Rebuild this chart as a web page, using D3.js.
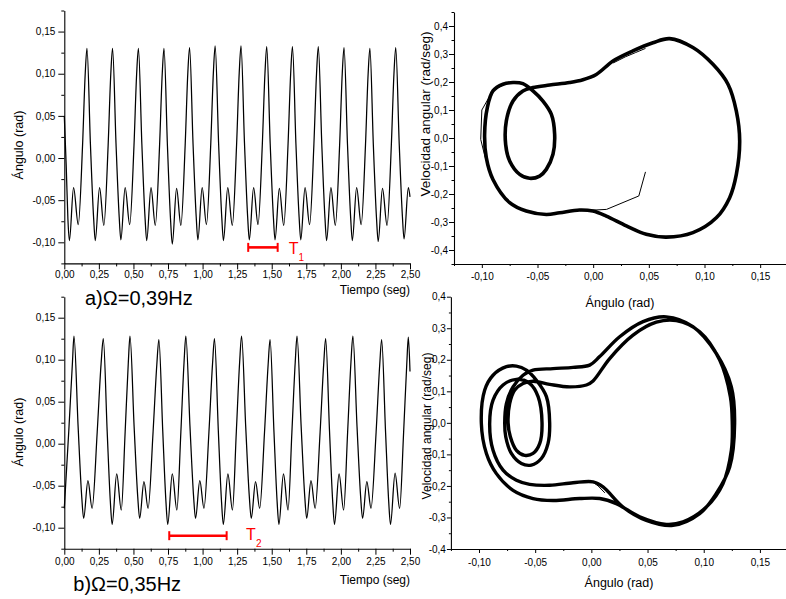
<!DOCTYPE html>
<html><head><meta charset="utf-8">
<script src="https://cdn.jsdelivr.net/npm/d3@7"></script>
<style>body{margin:0;background:#fff}text{font-family:"Liberation Sans",Arial,sans-serif}</style>
</head><body>
<script>
// ---------- DATA ----------
const timeTicks=[0,0.25,0.5,0.75,1,1.25,1.5,1.75,2,2.25,2.5];
const timeMinor=[0.125,0.375,0.625,0.875,1.125,1.375,1.625,1.875,2.125,2.375];
const angleTicks=[-0.10,-0.05,0,0.05,0.10,0.15];
const angleMinor=[-0.125,-0.075,-0.025,0.025,0.075,0.125,0.175];
const velTicksA=[-0.4,-0.3,-0.2,-0.1,0,0.1,0.2,0.3,0.4];
const velMinorA=[-0.45,-0.35,-0.25,-0.15,-0.05,0.05,0.15,0.25,0.35,0.45];
const velMinorB=[-0.35,-0.25,-0.15,-0.05,0.05,0.15,0.25,0.35];

// a) time series (s, rad)
const topT=[0.000,0.014,0.026,0.037,0.067,0.101,
0.132,0.151,0.164,0.189,0.212,0.224,0.255,0.286,
0.317,0.336,0.349,0.374,0.397,0.409,0.440,0.473,
0.504,0.523,0.536,0.561,0.584,0.596,0.627,0.658,
0.689,0.708,0.721,0.746,0.769,0.781,0.812,0.843,
0.874,0.893,0.906,0.931,0.954,0.966,0.997,1.028,
1.059,1.078,1.091,1.116,1.139,1.151,1.182,1.215,
1.246,1.265,1.278,1.303,1.326,1.338,1.369,1.401,
1.432,1.451,1.464,1.489,1.512,1.524,1.555,1.587,
1.618,1.637,1.650,1.675,1.698,1.710,1.741,1.774,
1.805,1.824,1.837,1.862,1.885,1.897,1.928,1.960,
1.991,2.010,2.023,2.048,2.071,2.083,2.114,2.147,
2.178,2.197,2.210,2.235,2.258,2.270,2.301,2.334,
2.365,2.384,2.397,2.422,2.445,2.457,2.488,2.500];
const topA=[0.050,-0.010,-0.072,-0.098,-0.035,-0.079,
0.015,0.099,0.130,0.016,-0.071,-0.098,-0.035,-0.080,
0.015,0.099,0.130,0.017,-0.070,-0.097,-0.035,-0.079,
0.015,0.099,0.130,0.016,-0.071,-0.098,-0.035,-0.080,
0.015,0.099,0.130,0.014,-0.075,-0.102,-0.036,-0.080,
0.015,0.100,0.131,0.017,-0.070,-0.097,-0.035,-0.079,
0.016,0.101,0.133,0.017,-0.071,-0.098,-0.035,-0.080,
0.016,0.101,0.133,0.018,-0.070,-0.097,-0.035,-0.079,
0.016,0.100,0.132,0.017,-0.070,-0.097,-0.036,-0.080,
0.016,0.100,0.132,0.017,-0.070,-0.097,-0.035,-0.079,
0.016,0.100,0.132,0.017,-0.071,-0.098,-0.035,-0.080,
0.015,0.100,0.131,0.016,-0.071,-0.098,-0.035,-0.079,
0.015,0.099,0.130,0.015,-0.072,-0.099,-0.036,-0.080,
0.015,0.100,0.131,0.017,-0.069,-0.096,-0.035,-0.046];

// b) time series (s, rad)
const botT=[0.000,0.032,0.059,0.070,
0.100,0.126,0.140,0.171,0.201,0.238,0.266,0.282,
0.310,0.333,0.346,0.379,0.412,0.440,0.463,0.475,
0.505,0.531,0.545,0.576,0.606,0.642,0.669,0.684,
0.712,0.735,0.748,0.781,0.814,0.843,0.866,0.879,
0.909,0.935,0.949,0.980,1.010,1.046,1.072,1.086,
1.114,1.137,1.150,1.183,1.216,1.244,1.268,1.282,
1.312,1.338,1.352,1.383,1.413,1.448,1.474,1.488,
1.516,1.539,1.552,1.585,1.618,1.646,1.670,1.683,
1.713,1.739,1.753,1.784,1.814,1.850,1.876,1.890,
1.918,1.941,1.954,1.987,2.020,2.049,2.073,2.087,
2.117,2.143,2.157,2.188,2.218,2.255,2.281,2.295,
2.323,2.346,2.359,2.392,2.425,2.454,2.477,2.488,
2.500];
const botA=[-0.077,0.014,0.097,0.128,
0.020,-0.063,-0.089,-0.044,-0.077,0.014,0.095,0.125,
0.015,-0.069,-0.096,-0.036,-0.079,0.014,0.097,0.128,
0.020,-0.063,-0.089,-0.045,-0.077,0.014,0.094,0.124,
0.015,-0.069,-0.096,-0.036,-0.079,0.014,0.097,0.128,
0.020,-0.063,-0.089,-0.044,-0.077,0.014,0.095,0.125,
0.015,-0.069,-0.096,-0.036,-0.079,0.014,0.097,0.128,
0.020,-0.063,-0.089,-0.045,-0.077,0.014,0.094,0.124,
0.015,-0.069,-0.096,-0.036,-0.079,0.014,0.097,0.128,
0.020,-0.063,-0.089,-0.044,-0.077,0.014,0.095,0.125,
0.015,-0.069,-0.096,-0.036,-0.079,0.014,0.097,0.128,
0.020,-0.063,-0.089,-0.045,-0.077,0.014,0.094,0.124,
0.015,-0.069,-0.096,-0.035,-0.077,0.014,0.096,0.127,
0.086];

// period markers (s) and their level (rad)
const T1=[1.330,1.543], T1level=-0.106;
const T2=[0.759,1.174], T2level=-0.1095;

// a) phase portrait (rad, rad/s)
const trAng=[0.0687,0.0896,0.1076,0.1211,0.1286,0.1316,0.1286,0.1226,0.1106,0.0896,0.0657,0.0477,0.0298,0.0118,-0.0002,-0.0122,-0.0301,-0.0421,-0.0601,-0.0750,-0.0900,-0.0960,-0.0975,-0.0951,-0.0900,-0.0810,-0.0720,-0.0631,-0.0541,-0.0451,-0.0376,-0.0346,-0.0361,-0.0421,-0.0481,-0.0571,-0.0660,-0.0750,-0.0786,-0.0780,-0.0720,-0.0631,-0.0541,-0.0391,-0.0211,-0.0092,0.0028,0.0178,0.0357,0.0537];
const trVel=[0.355,0.323,0.263,0.192,0.096,-0.011,-0.130,-0.213,-0.285,-0.338,-0.354,-0.344,-0.314,-0.279,-0.261,-0.257,-0.267,-0.273,-0.261,-0.231,-0.148,-0.070,0.013,0.108,0.168,0.192,0.198,0.194,0.168,0.132,0.085,0.013,-0.058,-0.112,-0.136,-0.144,-0.130,-0.082,-0.023,0.061,0.132,0.168,0.180,0.189,0.198,0.208,0.227,0.275,0.311,0.340];
const trTrans1Ang=[0.047,0.038,0.029,0.018], trTrans1Vel=[0.320,0.305,0.290,0.268];
const trTrans2Ang=[0.047,0.041,0.012,-0.012], trTrans2Vel=[-0.121,-0.207,-0.255,-0.260];
const trTrans3Ang=[-0.076,-0.090,-0.100,-0.101,-0.097], trTrans3Vel=[0.200,0.170,0.100,-0.005,-0.070];

// b) phase portrait (rad, rad/s)
const brAng=[0.1275,0.1231,0.1112,0.0964,0.0727,0.0489,0.0282,0.0104,0.0015,-0.0163,-0.0371,-0.0549,-0.0667,-0.0786,-0.0875,-0.0905,-0.0875,-0.0786,-0.0667,-0.0549,-0.0474,-0.0439,-0.0460,-0.0519,-0.0593,-0.0667,-0.0721,-0.0741,-0.0727,-0.0682,-0.0608,-0.0519,-0.0371,-0.0193,-0.0044,0.0015,0.0163,0.0371,0.0578,0.0756,0.0964,0.1142,0.1237,0.1254,
0.1246,0.1171,0.1023,0.0816,0.0667,0.0430,0.0222,0.0074,-0.0104,-0.0341,-0.0519,-0.0697,-0.0845,-0.0934,-0.0979,-0.0949,-0.0875,-0.0756,-0.0667,-0.0578,-0.0489,-0.0400,-0.0371,-0.0386,-0.0445,-0.0534,-0.0623,-0.0712,-0.0762,-0.0771,-0.0756,-0.0697,-0.0608,-0.0519,-0.0341,-0.0163,-0.0015,0.0074,0.0252,0.0460,0.0667,0.0904,0.1112,0.1246];
const brVel=[-0.002,-0.140,-0.224,-0.288,-0.325,-0.309,-0.267,-0.203,-0.187,-0.190,-0.198,-0.195,-0.182,-0.150,-0.087,-0.002,0.072,0.120,0.138,0.125,0.083,0.000,-0.066,-0.097,-0.103,-0.087,-0.044,0.000,0.061,0.104,0.125,0.132,0.122,0.114,0.120,0.133,0.204,0.278,0.319,0.324,0.289,0.199,0.083,-0.002,
-0.087,-0.193,-0.267,-0.314,-0.322,-0.298,-0.256,-0.240,-0.240,-0.246,-0.240,-0.214,-0.161,-0.097,-0.002,0.104,0.151,0.178,0.180,0.167,0.135,0.083,0.000,-0.066,-0.113,-0.134,-0.129,-0.097,-0.044,0.000,0.061,0.114,0.151,0.167,0.172,0.176,0.183,0.210,0.273,0.321,0.336,0.305,0.220,0.114];
const brTransAng=[-0.001,0.006,0.012], brTransVel=[-0.182,-0.200,-0.222];

// ---------- DRAW ----------
const W=786,H=599;
const svg=d3.select("body").append("svg").attr("width",W).attr("height",H);
svg.append("rect").attr("width",W).attr("height",H).attr("fill","#fff");
const loc=d3.formatLocale({decimal:",",thousands:".",grouping:[3],currency:["",""],minus:"-"});
const f2=loc.format(".2f"), f1=loc.format(".1f");
const FONT='"Liberation Sans",Arial,sans-serif';

function styleAxis(g){
  g.selectAll("path.domain").attr("stroke","#000").attr("stroke-width",1.1);
  g.selectAll(".tick line").attr("stroke","#000").attr("stroke-width",1);
  g.selectAll(".tick text").attr("fill","#000").style("font-family",FONT).style("font-size","10px");
}
function axes(x,y,o){
  const gx=svg.append("g").attr("transform",`translate(0,${y.range()[0]})`)
    .call(d3.axisBottom(x).tickValues(o.xT).tickFormat(o.xF).tickSize(o.xS).tickSizeOuter(0).tickPadding(o.xP));
  styleAxis(gx);
  const gxm=svg.append("g").attr("transform",`translate(0,${y.range()[0]})`)
    .call(d3.axisBottom(x).tickValues(o.xM).tickFormat("").tickSize(o.xS/2).tickSizeOuter(0));
  gxm.select("path.domain").remove(); styleAxis(gxm);
  const gy=svg.append("g").attr("transform",`translate(${x.range()[0]},0)`)
    .call(d3.axisLeft(y).tickValues(o.yT).tickFormat(o.yF).tickSize(o.yS).tickSizeOuter(0).tickPadding(o.yP));
  styleAxis(gy);
  const gym=svg.append("g").attr("transform",`translate(${x.range()[0]},0)`)
    .call(d3.axisLeft(y).tickValues(o.yM).tickFormat("").tickSize(o.yS/2).tickSizeOuter(0));
  gym.select("path.domain").remove(); styleAxis(gym);
}
function txt(x,y,s,size,anchor,rot,fill){
  const t=svg.append("text").attr("font-size",size).attr("fill",fill||"#000")
    .attr("text-anchor",anchor||"start").style("font-family",FONT).text(s);
  if(rot){t.attr("transform",`translate(${x},${y}) rotate(-90)`).attr("dy","0.35em");}
  else t.attr("x",x).attr("y",y);
  return t;
}
function marker(x,y,T,level){
  const g=svg.append("g").attr("stroke","#ff0000");
  g.append("line").attr("x1",x(T[0])).attr("x2",x(T[1])).attr("y1",y(level)).attr("y2",y(level)).attr("stroke-width",2.6);
  T.forEach(t=>g.append("line").attr("x1",x(t)).attr("x2",x(t)).attr("y1",y(level)-4.5).attr("y2",y(level)+4.5).attr("stroke-width",2));
}

// ---- panel a) time ----
const xA=d3.scaleLinear().domain([0,2.5]).range([64.3,410]);
const yA=d3.scaleLinear().domain([-0.125,0.175]).range([263.4,10.5]);
axes(xA,yA,{xT:timeTicks,xM:timeMinor,xF:f2,xS:6,xP:2,yT:angleTicks,yM:angleMinor,yF:f2,yS:6,yP:3});
const lineT=(x,y)=>d3.line().x(d=>x(d[0])).y(d=>y(d[1])).curve(d3.curveMonotoneX);
svg.append("path").datum(d3.zip(topT,topA)).attr("d",lineT(xA,yA)).attr("fill","none").attr("stroke","#000").attr("stroke-width",1.25);
marker(xA,yA,T1,T1level);
txt(288.7,254,"T","16px","start",false,"#ff0000");
txt(298.5,260.5,"1","10px","start",false,"#ff0000");
txt(18.5,145,"Ángulo (rad)","12.5px","middle",true);
txt(410,294,"Tiempo (seg)","12px","end");
txt(85,305,"a)Ω=0,39Hz","20px","start");

// ---- panel b) time ----
const xB=d3.scaleLinear().domain([0,2.5]).range([64.3,410]);
const yB=d3.scaleLinear().domain([-0.125,0.175]).range([548.7,296.7]);
axes(xB,yB,{xT:timeTicks,xM:timeMinor,xF:f2,xS:6,xP:3,yT:angleTicks,yM:angleMinor,yF:f2,yS:6,yP:3});
svg.append("path").datum(d3.zip(botT,botA)).attr("d",lineT(xB,yB)).attr("fill","none").attr("stroke","#000").attr("stroke-width",1.25);
marker(xB,yB,T2,T2level);
txt(246,540,"T","16px","start",false,"#ff0000");
txt(256,546.5,"2","10px","start",false,"#ff0000");
txt(19,432,"Ángulo (rad)","12.5px","middle",true);
txt(410,584,"Tiempo (seg)","12px","end");
txt(73.3,591,"b)Ω=0,35Hz","20px","start");

// ---- panel a) phase ----
const xC=d3.scaleLinear().domain([-0.125,0.175]).range([454,788]);
const yC=d3.scaleLinear().domain([-0.45,0.45]).range([264,12]);
axes(xC,yC,{xT:angleTicks,xM:angleMinor,xF:f2,xS:4,xP:5,yT:velTicksA,yM:velMinorA,yF:f1,yS:5,yP:1});
const closed=(x,y)=>d3.line().x(d=>x(d[0])).y(d=>y(d[1])).curve(d3.curveCatmullRomClosed.alpha(0.5));
const open=(x,y)=>d3.line().x(d=>x(d[0])).y(d=>y(d[1]));
svg.append("path").datum(d3.zip(trAng,trVel)).attr("d",closed(xC,yC)).attr("fill","none").attr("stroke","#000").attr("stroke-width",3.6).attr("stroke-linejoin","round");
[[trTrans1Ang,trTrans1Vel],[trTrans2Ang,trTrans2Vel],[trTrans3Ang,trTrans3Vel]].forEach(([a,v])=>
  svg.append("path").datum(d3.zip(a,v)).attr("d",open(xC,yC)).attr("fill","none").attr("stroke","#000").attr("stroke-width",1));
txt(425,114,"Velocidad angular (rad/seg)","13.5px","middle",true);
txt(620,306.5,"Ángulo (rad)","12.5px","middle");

// ---- panel b) phase ----
const xD=d3.scaleLinear().domain([-0.125,0.175]).range([450.9,788]);
const yD=d3.scaleLinear().domain([-0.4,0.4]).range([549,296.7]);
axes(xD,yD,{xT:angleTicks,xM:angleMinor,xF:f2,xS:4,xP:5.5,yT:velTicksA,yM:velMinorB,yF:f1,yS:4,yP:1});
svg.append("path").datum(d3.zip(brAng,brVel)).attr("d",closed(xD,yD)).attr("fill","none").attr("stroke","#000").attr("stroke-width",3.4).attr("stroke-linejoin","round");
svg.append("path").datum(d3.zip(brTransAng,brTransVel)).attr("d",open(xD,yD)).attr("fill","none").attr("stroke","#000").attr("stroke-width",1);
txt(426.5,426,"Velocidad angular (rad/seg)","12px","middle",true);
txt(619,586.5,"Ángulo (rad)","12.5px","middle");
</script>
</body></html>
